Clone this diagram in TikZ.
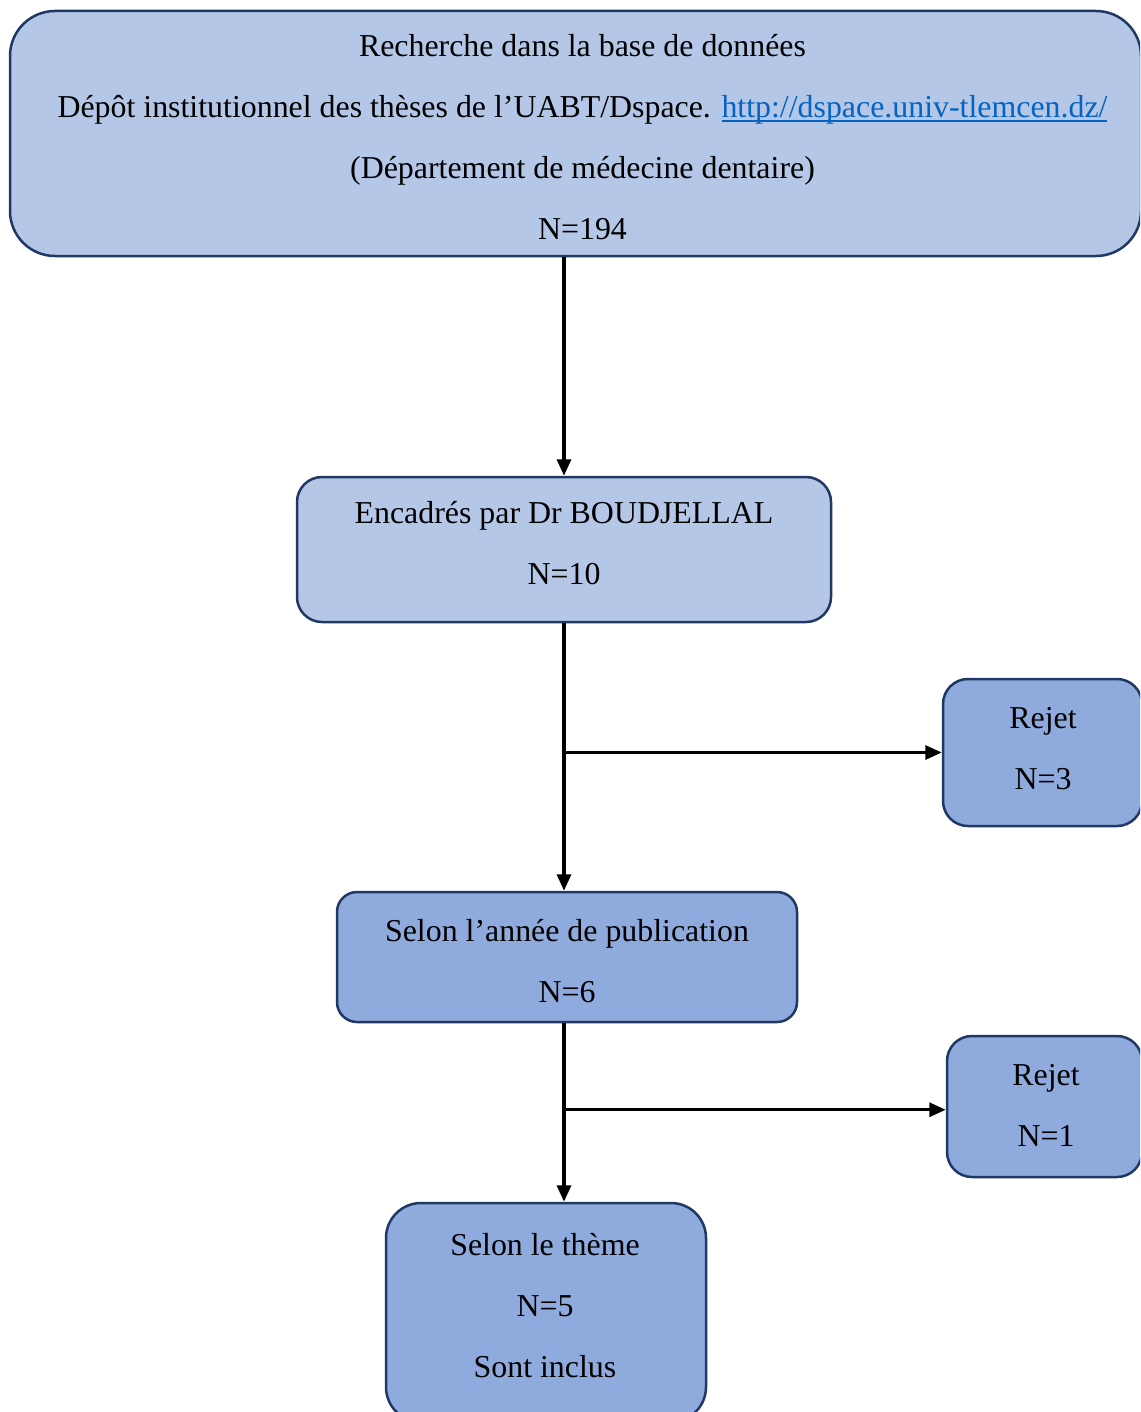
\documentclass[tikz,border=0pt]{standalone}
\usepackage{fontspec}
\setmainfont{Liberation Serif}
\usetikzlibrary{arrows.meta}
\definecolor{paleblue}{HTML}{B4C7E7}
\definecolor{midblue}{HTML}{8FAADC}
\definecolor{navy}{HTML}{203864}
\definecolor{linkblue}{HTML}{0563C1}
% hyperlink-like text: blue, with an underline close to the baseline
\newcommand\weblink[1]{{\color{linkblue}\setbox0\hbox{#1}\rlap{\rule[-1.7pt]{\wd0}{0.75pt}}\box0}}
\begin{document}
\begin{tikzpicture}[x=0.4pt,y=-0.4pt,
  box/.style={draw=navy, line width=1pt, rounded corners=10pt, inner sep=0pt},
  light/.style={box, fill=paleblue},
  dark/.style={box, fill=midblue},
  lbl/.style={inner sep=0pt, align=center, text=black,
    font=\fontsize{12.75}{24.4}\selectfont},
  flow/.style={line width=1.3pt, -{Triangle[length=6.6pt,width=5.6pt]}}]
\useasboundingbox (0,0) rectangle (1140,1412);
\clip (0,0) rectangle (1140,1412);

% boxes
\node[light, rounded corners=18pt, minimum width=0.4pt*1131, minimum height=0.4pt*245] (src) at (575.5,133.5) {};
\node[light, minimum width=0.4pt*534, minimum height=0.4pt*145] (enc) at (564,549.5) {};
\node[dark, minimum width=0.4pt*199, minimum height=0.4pt*147] (rej1) at (1042.5,752.5) {};
\node[dark, rounded corners=8pt, minimum width=0.4pt*460, minimum height=0.4pt*130] (year) at (567,957) {};
\node[dark, minimum width=0.4pt*195, minimum height=0.4pt*141] (rej2) at (1044.5,1106.5) {};
\node[dark, rounded corners=14pt, minimum width=0.4pt*320, minimum height=0.4pt*219] (theme) at (546,1312.5) {};

% box texts
\node[lbl] (srcT) at (582.5,137.5)
  {Recherche dans la base de données\\
   Dépôt institutionnel des thèses de l’UABT/Dspace. \weblink{http://dspace.univ-tlemcen.dz/}\\
   (Département de médecine dentaire)\\
   N=194};
\node[lbl] (encT) at (564,543.5) {Encadrés par Dr BOUDJELLAL\\ N=10};
\node[lbl] (rej1T) at (1043,749) {Rejet\\ N=3};
\node[lbl] (yearT) at (567,961) {Selon l’année de publication\\ N=6};
\node[lbl] (rej2T) at (1046,1105) {Rejet\\ N=1};
\node[lbl] (themeT) at (545,1305.5) {Selon le thème\\ N=5\\ Sont inclus};

% connectors
\draw[flow] (enc.north |- src.south) -- (enc.north);
\draw[flow] (enc.south) -- (enc.south |- year.north);
\draw[flow] (enc.south |- rej1.west) -- (rej1.west);
\draw[flow] (enc.south |- year.south) -- (enc.south |- theme.north);
\draw[flow] ([yshift=-1.3pt]enc.south |- rej2.west) -- ([yshift=-1.3pt]rej2.west);
\end{tikzpicture}
\end{document}
